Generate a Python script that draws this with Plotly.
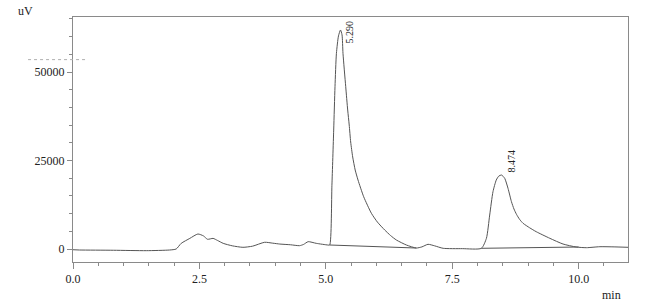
import plotly.graph_objects as go

# Chromatogram trace (time in min, signal in uV)
time_min = [0.0, 0.13, 0.8, 1.45, 1.91, 2.04, 2.14, 2.31, 2.47, 2.58, 2.66, 2.77, 2.86, 2.97, 3.15, 3.36,
            3.55, 3.79, 3.95, 4.09, 4.30, 4.48, 4.56, 4.65, 4.81, 5.04,
            5.076, 5.12, 5.155, 5.181, 5.209, 5.25, 5.29, 5.32, 5.339, 5.393, 5.432, 5.462, 5.491, 5.531,
            5.58, 5.636, 5.748, 5.901, 6.02, 6.164, 6.28, 6.395, 6.593, 6.79, 6.9, 7.02, 7.15, 7.32, 7.7,
            8.076, 8.175, 8.24, 8.305, 8.37, 8.42, 8.474, 8.537, 8.602, 8.67, 8.72, 8.77, 8.83, 8.9, 9.03,
            9.16, 9.43, 9.69, 9.95, 10.15, 10.42, 10.7, 10.975]
signal_uv = [-200, -280, -350, -470, -280, 0, 1600, 3000, 4240, 3700, 2750, 3000, 2400, 1600, 900, 480,
             800, 1900, 1650, 1400, 1200, 940, 1300, 2070, 1600, 1130,
             1130, 18000, 33600, 45850, 55280, 60200, 61870, 60500, 55280, 45850, 39270, 35030, 30230, 25990,
             22320, 19490, 14775, 10085, 7600, 5370, 3800, 2540, 1130, 280, 600, 1330, 900, 200, 100,
             200, 3020, 9600, 16190, 19490, 20600, 20900, 19970, 17150, 13370, 11300, 9800, 8400, 7260, 6000,
             4890, 3020, 1410, 565, 370, 650, 600, 480]

# Integration baselines drawn under the two peaks
base1_t = [5.076, 6.79]
base1_v = [1130, 280]
base2_t = [8.076, 10.0]
base2_v = [200, 560]

# Peak labels (retention times)
peak_t = [5.290, 8.474]
peak_v = [61870, 20900]

x_ticks = [0.0, 2.5, 5.0, 7.5, 10.0]
x_tick_text = ["0.0", "2.5", "5.0", "7.5", "10.0"]
y_ticks = [0, 25000, 50000]
y_tick_text = ["0", "25000", "50000"]

line_col = "#555555"
axis_col = "#8a8a8a"
font = dict(family="Liberation Serif, Times New Roman, serif", size=12, color="#222222")

fig = go.Figure()
fig.add_trace(go.Scatter(x=time_min, y=signal_uv, mode="lines",
                         line=dict(color=line_col, width=1, shape="spline", smoothing=0.6),
                         hoverinfo="skip", showlegend=False))
for bt, bv in [(base1_t, base1_v), (base2_t, base2_v)]:
    fig.add_trace(go.Scatter(x=bt, y=bv, mode="lines", line=dict(color=line_col, width=1),
                             hoverinfo="skip", showlegend=False))

label_shift = [(9, -2), (9, 14)]
for t, v, (dx, dy) in zip(peak_t, peak_v, label_shift):
    fig.add_annotation(x=t, y=v, text=f"{t:.3f}", showarrow=False, textangle=-90,
                       xshift=dx, yshift=dy, font=dict(family=font["family"], size=10, color="#222222"),
                       xanchor="center", yanchor="middle")

fig.add_annotation(xref="paper", yref="paper", x=-0.086, y=1.0, yshift=6, text="uV",
                   showarrow=False, xanchor="center", yanchor="middle", font=font)
fig.add_annotation(xref="paper", yref="paper", x=0.971, y=0, yshift=-24, text="min",
                   showarrow=False, xanchor="center", yanchor="top", font=font)

# faint dotted scanning artefact at left
fig.add_shape(type="line", xref="paper", yref="y", x0=-0.081, x1=0.027, y0=53500, y1=53500,
              line=dict(color="#b0b0b0", width=1, dash="dot"))

fig.update_layout(
    width=658, height=306,
    margin=dict(l=73, r=30, t=17, b=44),
    paper_bgcolor="white", plot_bgcolor="white",
    font=font,
    xaxis=dict(range=[0, 10.975], tickvals=x_ticks, ticktext=x_tick_text,
               showline=True, linecolor=axis_col, linewidth=1, mirror=True,
               ticks="outside", ticklen=6, tickcolor=axis_col, showgrid=False, zeroline=False,
               minor=dict(dtick=0.5, tick0=0, ticks="outside", ticklen=3, tickcolor=axis_col, showgrid=False)),
    yaxis=dict(range=[-3670, 65540], tickvals=y_ticks, ticktext=y_tick_text,
               showline=True, linecolor=axis_col, linewidth=1, mirror=True,
               ticks="outside", ticklen=5, tickcolor=axis_col, showgrid=False, zeroline=False,
               minor=dict(dtick=5000, tick0=0, ticks="outside", ticklen=3, tickcolor=axis_col, showgrid=False)),
)

fig.write_html("out.html")
